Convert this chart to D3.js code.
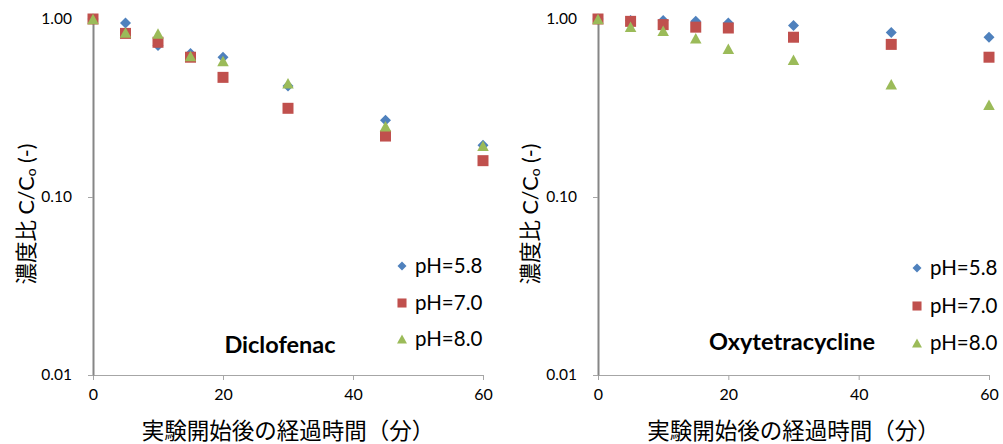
<!DOCTYPE html>
<html>
<head>
<meta charset="utf-8">
<script src="https://cdn.jsdelivr.net/npm/d3@7/dist/d3.min.js"></script>
<style>
  html, body { margin: 0; padding: 0; background: #fff; }
  svg { display: block; }
  text { font-family: Lato, "Noto Sans CJK JP", sans-serif; fill: #000; }
</style>
</head>
<body>
<svg id="chart" width="1003" height="444"></svg>
<script>
// Sampling times (minutes)
const times = [0, 5, 10, 15, 20, 30, 45, 60];
const seriesLabels = ["pH=5.8", "pH=7.0", "pH=8.0"];

// Concentration ratio C/C0 — Diclofenac
const diclofenacPH58 = [1.00, 0.95, 0.71, 0.64, 0.61, 0.42, 0.27, 0.195];
const diclofenacPH70 = [1.00, 0.83, 0.74, 0.61, 0.47, 0.315, 0.22, 0.16];
const diclofenacPH80 = [1.00, 0.84, 0.83, 0.62, 0.58, 0.435, 0.25, 0.194];

// Concentration ratio C/C0 — Oxytetracycline
const oxytetracyclinePH58 = [1.00, 0.98, 0.98, 0.97, 0.95, 0.92, 0.84, 0.79];
const oxytetracyclinePH70 = [1.00, 0.97, 0.93, 0.90, 0.89, 0.79, 0.72, 0.61];
const oxytetracyclinePH80 = [1.00, 0.905, 0.86, 0.78, 0.68, 0.59, 0.43, 0.33];

const xTicks = [0, 20, 40, 60];
const yTicks = [0.01, 0.1, 1];
const xTitle = "実験開始後の経過時間（分）";

const colors = ["#4F81BD", "#C0504D", "#9BBB59"];

// Marker shapes: rotated square, square, upward triangle
const diamond = { draw(ctx, size) { const r = Math.sqrt(size) / 2; ctx.moveTo(0, -r); ctx.lineTo(r, 0); ctx.lineTo(0, r); ctx.lineTo(-r, 0); ctx.closePath(); } };
const square = { draw(ctx, size) { const r = Math.sqrt(size) / 2; ctx.rect(-r, -r, 2 * r, 2 * r); } };
const triangle = { draw(ctx, size) { const r = Math.sqrt(size) / 2; ctx.moveTo(0, -r); ctx.lineTo(r * 1.1, r); ctx.lineTo(-r * 1.1, r); ctx.closePath(); } };
const shapes = [diamond, square, triangle];
const markerSizes = [121, 121, 110];

const panels = [
  { name: "Diclofenac", series: [diclofenacPH58, diclofenacPH70, diclofenacPH80],
    x0: 93, x1: 483, titleX: 26, nameX: 280, nameY: 353, legX: 402, legY: [273, 310, 346] },
  { name: "Oxytetracycline", series: [oxytetracyclinePH58, oxytetracyclinePH70, oxytetracyclinePH80],
    x0: 598, x1: 989, titleX: 530, nameX: 792, nameY: 350, legX: 917, legY: [275, 313, 350] }
];

const yTop = 19, yBottom = 375;
const svg = d3.select("#chart");

panels.forEach(p => {
  const x = d3.scaleLinear().domain([0, 60]).range([p.x0, p.x1]);
  const y = d3.scaleLog().domain([0.01, 1]).range([yBottom, yTop]);
  const g = svg.append("g");

  // x axis
  const xAxis = g.append("g").attr("transform", `translate(0,${yBottom})`)
    .call(d3.axisBottom(x).tickValues(xTicks).tickSize(5).tickSizeOuter(0).tickPadding(9));
  xAxis.select(".domain").attr("stroke", "#A6A6A6").attr("stroke-width", 1);
  xAxis.selectAll(".tick line").attr("stroke", "#A6A6A6");
  xAxis.selectAll(".tick text").attr("font-size", 16).attr("font-family", "Lato").attr("fill", "#000");

  // y axis
  const yAxis = g.append("g").attr("transform", `translate(${p.x0},0)`)
    .call(d3.axisLeft(y).tickValues(yTicks).tickFormat(d3.format(".2f")).tickSize(5).tickSizeOuter(0).tickPadding(16));
  yAxis.select(".domain").attr("stroke", "#868686").attr("stroke-width", 2);
  yAxis.selectAll(".tick line").attr("stroke", "#A6A6A6");
  yAxis.selectAll(".tick text").attr("font-size", 15.5).attr("font-family", "Lato").attr("fill", "#000");

  // axis titles
  g.append("text")
    .attr("x", (p.x0 + p.x1) / 2).attr("y", 439)
    .attr("text-anchor", "middle").attr("font-size", 22.5)
    .text(xTitle);

  const yt = g.append("text")
    .attr("transform", `translate(${p.titleX},${214}) rotate(-90)`)
    .attr("text-anchor", "middle").attr("dy", "0.35em").attr("font-size", 21.5);
  yt.append("tspan").text("濃度比 C/C");
  yt.append("tspan").attr("font-size", 14).attr("dy", 2).text("o");
  yt.append("tspan").attr("dy", -2).text(" (-)");

  // data markers
  p.series.forEach((vals, i) => {
    g.append("g").selectAll("path")
      .data(times.map((t, k) => ({ t, v: vals[k] })))
      .join("path")
      .attr("transform", d => `translate(${x(d.t)},${y(d.v)})`)
      .attr("d", d3.symbol().type(shapes[i]).size(markerSizes[i]))
      .attr("fill", colors[i]);
  });

  // compound name
  g.append("text")
    .attr("x", p.nameX).attr("y", p.nameY)
    .attr("text-anchor", "middle").attr("font-size", 23.5).attr("font-weight", "bold")
    .text(p.name);

  // legend
  seriesLabels.forEach((lab, i) => {
    g.append("path")
      .attr("transform", `translate(${p.legX},${p.legY[i] - 7})`)
      .attr("d", d3.symbol().type(shapes[i]).size(82)())
      .attr("fill", colors[i]);
    g.append("text")
      .attr("x", p.legX + 13).attr("y", p.legY[i])
      .attr("font-size", 20.5)
      .text(lab);
  });
});
</script>
</body>
</html>
